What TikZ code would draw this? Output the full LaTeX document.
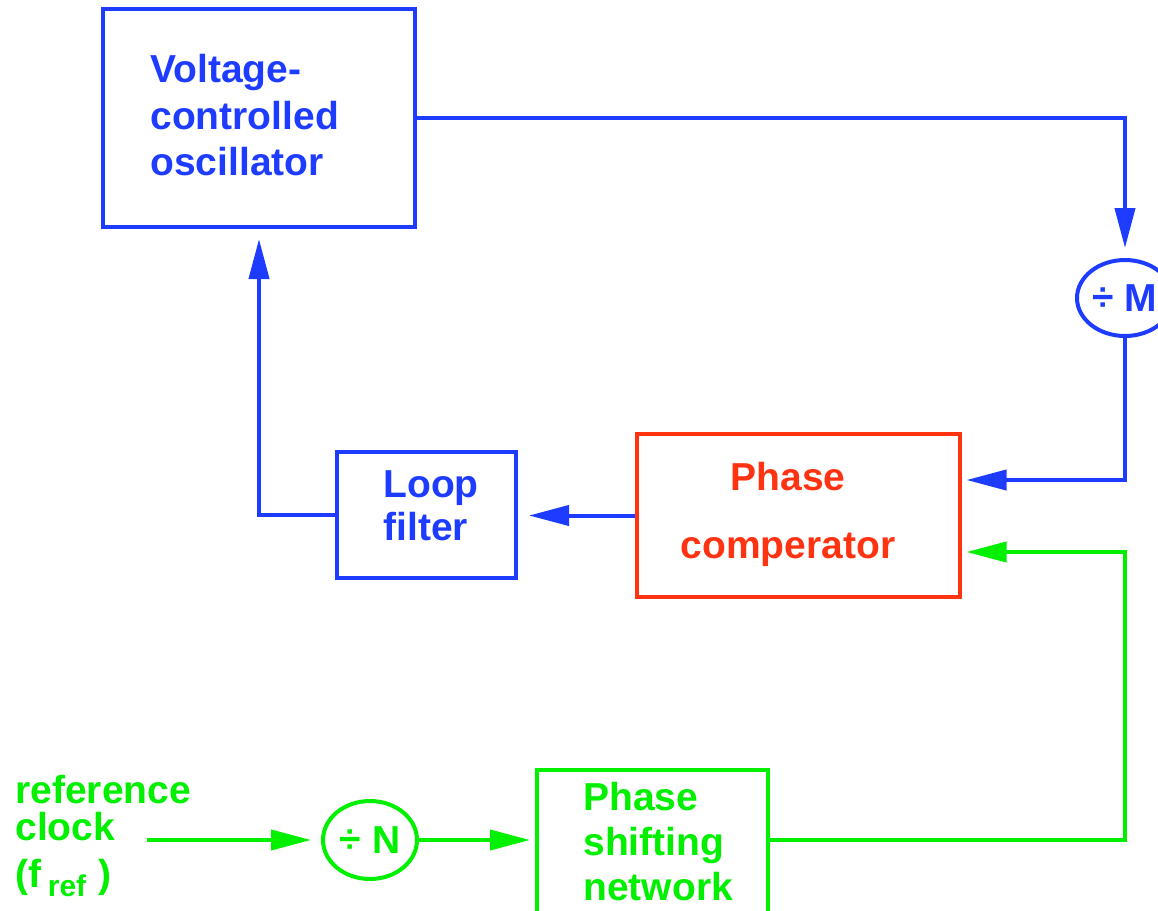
\documentclass[tikz,border=0pt]{standalone}
\usepackage{fontspec}
\setmainfont{Liberation Sans}
\definecolor{loopblue}{HTML}{1E3CFF}
\definecolor{cmpred}{HTML}{FF3311}
\definecolor{refgreen}{HTML}{00F000}
\usetikzlibrary{arrows.meta,shapes.geometric}

\begin{document}
\begin{tikzpicture}[x=.5pt,y=-.5pt,
  box/.style={draw,line width=2pt,inner sep=0pt},
  divider/.style={draw,ellipse,line width=2pt,inner sep=0pt,font=\bfseries\fontsize{19.5pt}{23pt}\selectfont},
  lbl/.style={inner sep=0pt,font=\bfseries\fontsize{19.5pt}{#1}\selectfont},
  arr/.style={line width=2pt,-{Triangle[length=20pt,width=10pt]},shorten >=5pt}]
\clip (0,0) rectangle (1158,911);
% blocks
\node[box,loopblue,minimum width=156pt,minimum height=109pt] (vco) at (259,118) {};
\node[box,cmpred,minimum width=161.5pt,minimum height=81.5pt] (pc) at (798,515.5) {};
\node[box,loopblue,minimum width=89.5pt,minimum height=63pt] (lf) at (426.5,515) {};
\node[box,refgreen,minimum width=115.5pt,minimum height=80pt] (psn) at (652.5,850) {};
\node[divider,loopblue,minimum width=48pt,minimum height=38pt] (divm) at (1125,298) {\raisebox{.5pt}{÷} M};
\node[divider,refgreen,minimum width=47pt,minimum height=39pt] (divn) at (370,840) {\raisebox{.5pt}{÷} N};
% texts
\node[lbl=23.25pt,loopblue,align=left,anchor=north west] (vcotxt) at (150,54) {Voltage-\\controlled\\oscillator};
\node[lbl=34pt,cmpred,align=center,anchor=north] (pctxt) at (788,462) {Phase\\comperator};
\node[lbl=21.5pt,loopblue,align=left,anchor=north west] (lftxt) at (383,470) {Loop\\filter};
\node[lbl=22.5pt,refgreen,align=left,anchor=north west] (psntxt) at (583,782) {Phase\\shifting\\network};
\node[lbl=18.5pt,refgreen,align=left,anchor=north west] (clktxt) at (15,775) {reference\\clock\\[5pt](f\,\raisebox{-4.5pt}{\fontsize{15pt}{15pt}\selectfont ref}\hspace{6pt})};
\coordinate (clk) at (147,840);
% loop
\draw[arr,loopblue] (vco.east) -| (divm.north);
\draw[arr,loopblue,shorten >=2.5pt] (divm.south) |- ([yshift=17.75pt]pc.east);
\draw[arr,loopblue,shorten >=5.5pt] (pc.west) -- (pc.west -| lf.east);
\draw[arr,loopblue] (lf.west) -| (vco.south);
% reference path
\draw[arr,refgreen] (clk) -- (divn.west);
\draw[arr,refgreen,shorten >=2.5pt] (divn.east) -- (divn.east -| psn.west);
\draw[arr,refgreen,shorten >=2.5pt] (psn.east |- divn.east) -| ([yshift=-18.25pt]pc.east -| divm.south) -- ([yshift=-18.25pt]pc.east);
\end{tikzpicture}
\end{document}
